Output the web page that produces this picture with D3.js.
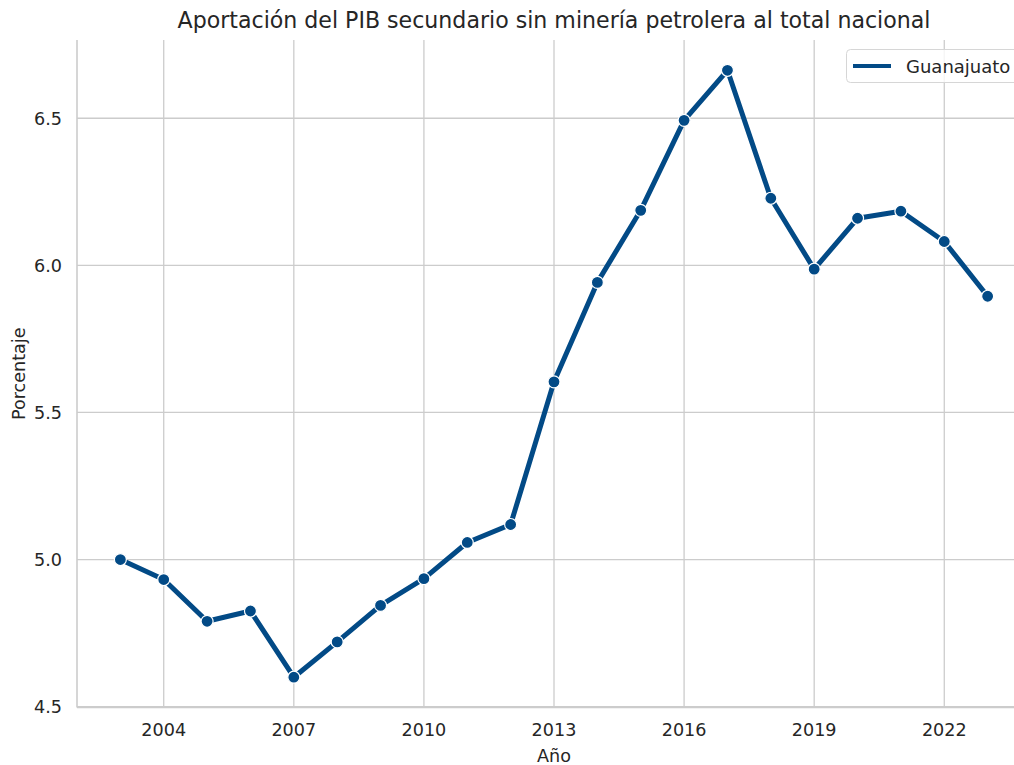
<!DOCTYPE html>
<html>
<head>
<meta charset="utf-8">
<script src="https://cdn.jsdelivr.net/npm/d3@7"></script>
<style>
  body { margin: 0; background: #fff; overflow: hidden; }
  svg { font-family: "DejaVu Sans", sans-serif; display: block; }
</style>
</head>
<body>
<svg></svg>
<script>
const years = [2003, 2004, 2005, 2006, 2007, 2008, 2009, 2010, 2011, 2012, 2013,
  2014, 2015, 2016, 2017, 2018, 2019, 2020, 2021, 2022, 2023];
const values = [5.00, 4.932, 4.79, 4.825, 4.60, 4.72, 4.844, 4.935, 5.058, 5.119, 5.604,
  5.942, 6.187, 6.493, 6.663, 6.228, 5.987, 6.16, 6.184, 6.081, 5.895];
const xTicks = [2004, 2007, 2010, 2013, 2016, 2019, 2022];
const yTicks = [4.5, 5.0, 5.5, 6.0, 6.5];
const seriesName = "Guanajuato";

let width = 1014, height = 765;
let svg = d3.select("svg").attr("width", width).attr("height", height);

let plotLeft = 77, plotRight = 1031, plotTop = 40, plotBottom = 707.5;
let color = "#024a86";
let textColor = "#262626";
let fs = 17.6;

let x = d3.scaleLinear().domain([2002, 2024]).range([plotLeft, plotRight]);
let y = d3.scaleLinear().domain([4.497, 6.766]).range([plotBottom, plotTop]);

// grid
svg.append("g").selectAll("line").data(xTicks).enter().append("line")
  .attr("x1", d => x(d)).attr("x2", d => x(d))
  .attr("y1", plotTop).attr("y2", plotBottom)
  .attr("stroke", "#cccccc").attr("stroke-width", 1.3);
svg.append("g").selectAll("line").data(yTicks).enter().append("line")
  .attr("x1", plotLeft).attr("x2", plotRight)
  .attr("y1", d => y(d)).attr("y2", d => y(d))
  .attr("stroke", "#cccccc").attr("stroke-width", 1.3);

// spines
svg.append("line").attr("x1", plotLeft).attr("x2", plotLeft).attr("y1", plotTop).attr("y2", plotBottom)
  .attr("stroke", "#cccccc").attr("stroke-width", 1.6);
svg.append("line").attr("x1", plotLeft).attr("x2", plotRight).attr("y1", plotBottom).attr("y2", plotBottom)
  .attr("stroke", "#cccccc").attr("stroke-width", 1.6);

// tick labels
svg.append("g").selectAll("text").data(xTicks).enter().append("text")
  .attr("x", d => x(d)).attr("y", 736)
  .attr("text-anchor", "middle").attr("font-size", fs).attr("fill", textColor)
  .text(d => d);
svg.append("g").selectAll("text").data(yTicks).enter().append("text")
  .attr("x", plotLeft - 15).attr("y", d => y(d) + 6.4)
  .attr("text-anchor", "end").attr("font-size", fs).attr("fill", textColor)
  .text(d => d.toFixed(1));

// axis titles
svg.append("text").attr("x", (plotLeft + plotRight) / 2).attr("y", 762)
  .attr("text-anchor", "middle").attr("font-size", fs).attr("fill", textColor).text("Año");
svg.append("text").attr("transform", `translate(25, ${(plotTop + plotBottom) / 2}) rotate(-90)`)
  .attr("text-anchor", "middle").attr("font-size", fs).attr("fill", textColor).text("Porcentaje");
svg.append("text").attr("x", (plotLeft + plotRight) / 2).attr("y", 28)
  .attr("text-anchor", "middle").attr("font-size", 22.1).attr("fill", textColor)
  .text("Aportación del PIB secundario sin minería petrolera al total nacional");

// line
let line = d3.line().x((d, i) => x(years[i])).y(d => y(d));
svg.append("path").datum(values)
  .attr("d", line).attr("fill", "none")
  .attr("stroke", color).attr("stroke-width", 5)
  .attr("stroke-linejoin", "round").attr("stroke-linecap", "round");
svg.append("g").selectAll("circle").data(values).enter().append("circle")
  .attr("cx", (d, i) => x(years[i])).attr("cy", d => y(d))
  .attr("r", 6).attr("fill", color)
  .attr("stroke", "#fff").attr("stroke-width", 1.2);

// legend
let lg = svg.append("g");
lg.append("rect").attr("x", 846.5).attr("y", 49.5).attr("width", 200).attr("height", 33)
  .attr("rx", 4).attr("fill", "#fff").attr("fill-opacity", 0.8)
  .attr("stroke", "#d6d6d6").attr("stroke-width", 1);
lg.append("line").attr("x1", 853).attr("x2", 891).attr("y1", 66).attr("y2", 66)
  .attr("stroke", color).attr("stroke-width", 4);
lg.append("text").attr("x", 906).attr("y", 72.5).attr("font-size", 18).attr("fill", textColor)
  .text(seriesName);
</script>
</body>
</html>
